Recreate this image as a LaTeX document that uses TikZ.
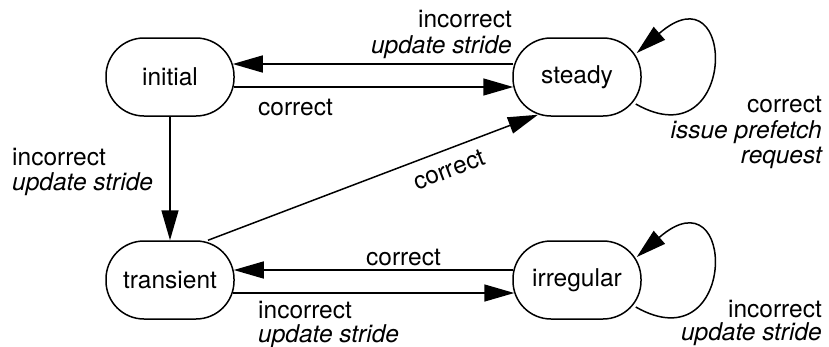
\documentclass[tikz,border=0pt]{standalone}
\usepackage{fontspec}
\setmainfont{TeX Gyre Heros}
\usetikzlibrary{arrows.meta}
\begin{document}
\begin{tikzpicture}[x=1pt,y=-1pt,
  state/.style={draw,line width=1.5pt,rectangle,rounded corners=38pt,
    minimum width=128pt,minimum height=78pt,inner sep=0pt,
    font=\fontsize{24.5}{26}\selectfont},
  lbl/.style={inner sep=0pt,font=\fontsize{24.5}{26}\selectfont},
  act/.style={lbl,font=\fontsize{24.5}{26}\selectfont\itshape},
  arr/.style={line width=1.5pt,-{Triangle[length=30pt,width=17pt]}}]
\useasboundingbox (0,0) rectangle (829,346);

% states
\node[state] (initial)   at (170,77)  {initial};
\node[state] (steady)    at (577,77)  {steady};
\node[state] (transient) at (170,280) {transient};
\node[state] (irregular) at (577,280) {irregular};

% transitions between states
\draw[arr] ([yshift=13pt,xshift=1pt]steady.west) -- ([yshift=13pt,xshift=-2pt]initial.east);
\draw[arr] ([yshift=-10pt,xshift=-1pt]initial.east) -- ([yshift=-10pt,xshift=1pt]steady.west);
\draw[arr] (initial.south) -- (transient.north);
\draw[arr] ([xshift=38pt]transient.north) -- ([xshift=-39pt,yshift=2pt]steady.south);
\draw[arr] ([yshift=10pt,xshift=1pt]irregular.west) -- ([yshift=10pt,xshift=-1pt]transient.east);
\draw[arr] ([yshift=-13pt,xshift=-2pt]transient.east) -- ([yshift=-13pt,xshift=2pt]irregular.west);

% self loops
\draw[arr] ([xshift=-6pt,yshift=-27pt]steady.east)
  .. controls +(102,58) and +(101,-88) .. ([xshift=-5pt,yshift=24pt]steady.east);
\draw[arr] ([xshift=-6pt,yshift=-27pt]irregular.east)
  .. controls +(102,58) and +(101,-88) .. ([xshift=-5pt,yshift=23pt]irregular.east);

% labels
\node[lbl,anchor=base east] (l1a) at (512,27) {incorrect};
\node[act,anchor=base east] (l1b) at (512,53) {update stride};
\node[lbl,anchor=base west] (l2)  at (258,115) {correct};
\node[lbl,anchor=base west] (l3a) at (12,165) {incorrect};
\node[act,anchor=base west] (l3b) at (12,190) {update stride};
\node[lbl,rotate=21,anchor=base] (l4) at (452,177) {correct};
\node[lbl,anchor=base west] (l5)  at (366,265) {correct};
\node[lbl,anchor=base west] (l6a) at (258,318) {incorrect};
\node[act,anchor=base west] (l6b) at (258,342) {update stride};
\node[lbl,anchor=base east] (l7a) at (822,112) {correct};
\node[act,anchor=base east] (l7b) at (822,138) {issue prefetch};
\node[act,anchor=base east] (l7c) at (822,163) {request};
\node[lbl,anchor=base east] (l8a) at (822,317) {incorrect};
\node[act,anchor=base east] (l8b) at (822,340) {update stride};
\end{tikzpicture}
\end{document}
